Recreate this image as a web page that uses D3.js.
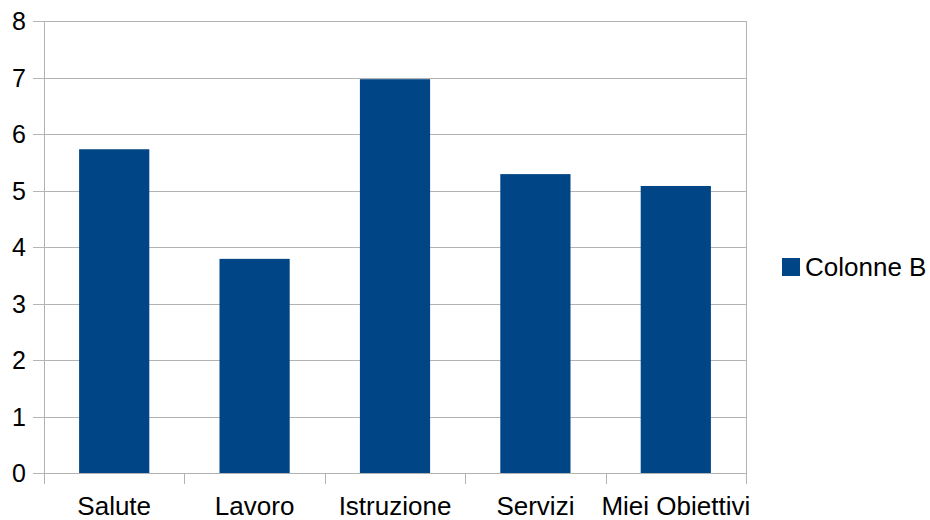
<!DOCTYPE html>
<html>
<head>
<meta charset="utf-8">
<script src="https://cdn.jsdelivr.net/npm/d3@7"></script>
<style>
  html, body { margin: 0; padding: 0; background: #fff; }
  svg { display: block; font-family: "Liberation Sans", Arial, sans-serif; }
</style>
</head>
<body>
<svg id="chart" width="930" height="520"></svg>
<script>
// Category labels and values for the single series
const categories = ["Salute", "Lavoro", "Istruzione", "Servizi", "Miei Obiettivi"];
const values = [5.73, 3.79, 6.97, 5.29, 5.08];
const yTicks = [0, 1, 2, 3, 4, 5, 6, 7, 8];
const seriesName = "Colonne B";

const svg = d3.select("#chart");
const plot = { left: 44, right: 746, top: 21, bottom: 473 };
const gridColor = "#b3b3b3";
const barColor = "#004586";

const x = d3.scaleBand().domain(categories).range([plot.left, plot.right]).paddingInner(0.5).paddingOuter(0.25);
const xOuter = d3.scaleBand().domain(categories).range([plot.left, plot.right]);
const y = d3.scaleLinear().domain([0, 8]).range([plot.bottom, plot.top]);

// Horizontal grid lines with small ticks to the left of the axis
svg.append("g").selectAll("line").data(yTicks).join("line")
  .attr("x1", plot.left - 11).attr("x2", plot.right)
  .attr("y1", d => Math.round(y(d)) + 0.5).attr("y2", d => Math.round(y(d)) + 0.5)
  .attr("stroke", gridColor).attr("stroke-width", 1);

// Y tick labels
svg.append("g").selectAll("text").data(yTicks).join("text")
  .attr("x", 26).attr("y", d => y(d)).attr("dy", "0.36em")
  .attr("text-anchor", "end").attr("font-size", 25).attr("fill", "#000")
  .text(d => d);

// Bars
svg.append("g").selectAll("rect").data(values).join("rect")
  .attr("x", (d, i) => x(categories[i]))
  .attr("width", x.bandwidth())
  .attr("y", d => y(d))
  .attr("height", d => y(0) - y(d))
  .attr("fill", barColor);

// Left axis and right border
[plot.left, plot.right].forEach(px => {
  svg.append("line")
    .attr("x1", px + 0.5).attr("x2", px + 0.5)
    .attr("y1", plot.top).attr("y2", plot.bottom + 11)
    .attr("stroke", gridColor);
});

// Category boundary ticks below the axis
const boundaries = categories.map(c => xOuter(c)).slice(1);
svg.append("g").selectAll("line").data(boundaries).join("line")
  .attr("x1", d => Math.round(d) + 0.5).attr("x2", d => Math.round(d) + 0.5)
  .attr("y1", plot.bottom).attr("y2", plot.bottom + 11)
  .attr("stroke", gridColor);

// Category labels
svg.append("g").selectAll("text").data(categories).join("text")
  .attr("x", d => xOuter(d) + xOuter.bandwidth() / 2)
  .attr("y", 515)
  .attr("text-anchor", "middle").attr("font-size", 26).attr("fill", "#000")
  .text(d => d);

// Legend
const legend = svg.append("g");
legend.append("rect").attr("x", 782).attr("y", 258).attr("width", 18).attr("height", 18).attr("fill", barColor);
legend.append("text").attr("x", 805).attr("y", 276).attr("font-size", 26).attr("fill", "#000").text(seriesName);
</script>
</body>
</html>
